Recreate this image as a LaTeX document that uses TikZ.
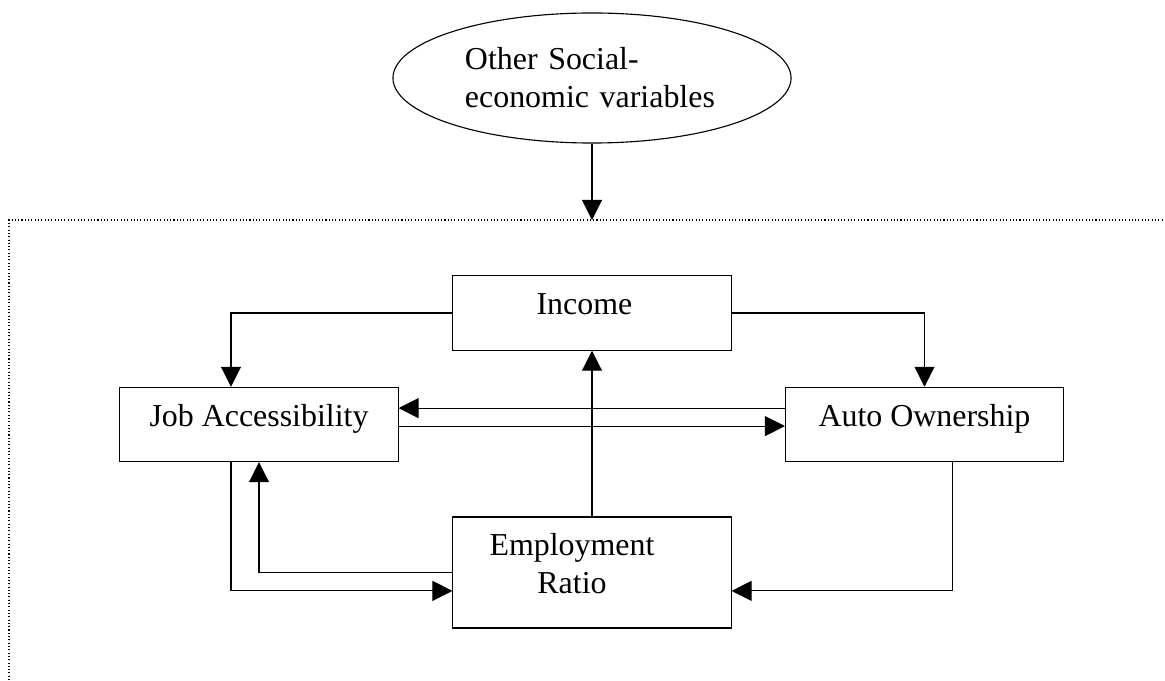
\documentclass[tikz,border=0pt]{standalone}
\usepackage{fontspec}
\setmainfont{Liberation Serif}
\usepackage{tikz}
\usetikzlibrary{arrows.meta,shapes.geometric}

\begin{document}
\begin{tikzpicture}[x=0.025cm,y=-0.025cm,font=\fontsize{22.7}{27}\selectfont]

        \edef\boxwidth{6.95cm}
        \tikzstyle{varbox}=[draw,line width=0.75pt,minimum width=\boxwidth,minimum height=1.86cm,text height=0.55cm,text depth=0.45cm]
        \tikzstyle{flow}=[line width=0.75pt,-{Triangle[length=0.5cm,width=0.5cm]}]

        \useasboundingbox (0,0) rectangle (1165,681);

        %% outside variables
        \node[draw,ellipse,line width=0.8pt,minimum width=9.95cm,minimum height=3.25cm,inner sep=0pt,
              text width=6.35cm,align=left] (oth) at (592,78)
              {Other Social-\\economic variables};

        %% dotted frame round the system
        \coordinate (fbl) at (9,690);
        \coordinate (ftl) at (9,220);
        \coordinate (ftr) at (1170,220);
        \coordinate (ftop) at (592,220);
        \draw[line width=0.75pt,dash pattern=on 0.75pt off 1.6pt] (fbl) -- (ftl) -- (ftr);

        \draw[flow] (oth.south) -- (ftop);

        %% the four variables
        \node[varbox] (inc) at (592,313) {Income\hspace*{0.38cm}};
        \node[varbox] (job) at (259,424.5) {Job Accessibility};
        \node[varbox] (auto) at (924.5,424.5) {Auto Ownership};
        \node[varbox,minimum height=2.775cm,align=center,text height=1.5cm,text depth=0.475cm] (emp) at (592,572.5)
              {Employment\hspace*{1cm}\\Ratio\hspace*{1cm}};

        %% links
        \draw[flow] (inc.west) -| ([xshift=-0.7cm]job.north);
        \draw[flow] (inc.east) -| (auto.north);
        \draw[flow] ([yshift=0.41cm]auto.west) -- ([yshift=0.41cm]job.east);
        \draw[flow] ([yshift=-0.04cm]job.east) -- ([yshift=-0.04cm]auto.west);
        \draw[flow] (emp.north) -- (inc.south);
        \draw[flow] (emp.west) -| (job.south);
        \draw[flow] ([xshift=-0.7cm]job.south) |- ([yshift=-0.46cm]emp.west);
        \draw[flow] ([xshift=0.71cm]auto.south) |- ([yshift=-0.46cm]emp.east);

\end{tikzpicture}
\end{document}
